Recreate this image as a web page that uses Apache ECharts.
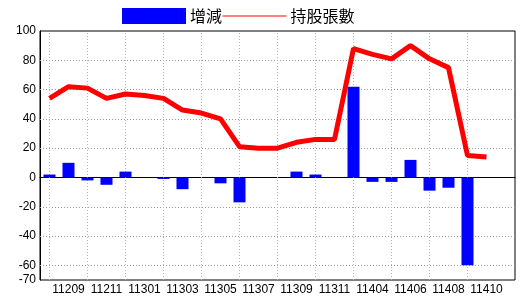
<!DOCTYPE html>
<html>
<head>
<meta charset="utf-8">
<script src="https://cdn.jsdelivr.net/npm/echarts@6/dist/echarts.min.js"></script>
<style>
html,body{margin:0;padding:0;background:#fff;}
#c{width:520px;height:300px;}
</style>
</head>
<body>
<div id="c"></div>
<script>
const categories = ['11208','11209','11210','11211','11212','11301','11302','11303','11304','11305','11306','11307','11308','11309','11310','11311','11312','11404','11405','11406','11407','11408','11409','11410','11411'];
const changeValues = [2, 10, -2, -5, 4, 0, -1, -8, 0, -4, -17, 0, 0, 4, 2, 0, 62, -3, -3, 12, -9, -7, -60, null, null];
const holdingValues = [54, 62, 61, 54, 57, 56, 54, 46, 44, 40, 21, 20, 20, 24, 26, 26, 88, 84, 81, 90, 81, 75, 15, 14, null];
const yLabelValues = [100, 80, 60, 40, 20, 0, -20, -40, -60, -70];
const hGridValues = [80, 60, 40, 20, -20, -40, -60];
const seriesNames = ['增減', '持股張數'];

const vGridCats = categories.filter((c, i) => i % 2 === 0 && i < 23);

const chart = echarts.init(document.getElementById('c'), null, {renderer: 'canvas'});
const labelFont = "'Liberation Sans Narrow','Liberation Sans',Arial,sans-serif";
chart.setOption({
  animation: false,
  backgroundColor: '#fff',
  legend: {
    left: 122, top: 8,
    itemWidth: 64, itemHeight: 16, itemGap: 0,
    padding: 0,
    textStyle: {fontFamily: "'Noto Sans CJK TC',sans-serif", fontSize: 16, color: '#000', padding: [0,0,0,-1]},
    lineStyle: {width: 1},
    data: [
      {name: seriesNames[0], icon: 'rect'},
      {name: seriesNames[1], lineStyle: {width: 1}, itemStyle: {color: 'rgba(0,0,0,0)', borderWidth: 0, opacity: 0}}
    ]
  },
  grid: {left: 40, top: 31, width: 475, height: 249, show: true, borderColor: '#000', borderWidth: 1, containLabel: false},
  xAxis: {
    type: 'category',
    data: categories,
    axisLine: {onZero: true, lineStyle: {color: '#000', width: 1}},
    axisTick: {show: false},
    splitLine: {show: false},
    axisLabel: {
      interval: (i) => i % 2 === 1,
      color: '#000', fontSize: 12, fontFamily: labelFont, margin: 4
    }
  },
  yAxis: {
    type: 'value', min: -70, max: 100, interval: 10,
    axisLine: {show: true, lineStyle: {color: '#000'}},
    axisTick: {show: false},
    splitLine: {show: false},
    axisLabel: {
      color: '#000', fontSize: 12, fontFamily: labelFont, margin: 4,
      formatter: (v) => yLabelValues.indexOf(v) >= 0 ? String(v) : ''
    }
  },
  series: [
    {
      type: 'line', data: [], silent: true, z: 1,
      markLine: {
        silent: true, z: 1, animation: false,
        symbol: ['none','none'],
        label: {show: false},
        emphasis: {disabled: true},
        data: hGridValues.map(v => ({yAxis: v, lineStyle: {color: '#999', type: [1,2], width: 1}}))
          .concat(vGridCats.map(c => ({xAxis: c, lineStyle: {color: '#9dbfcf', type: [1,2], width: 1}})))
      }
    },
    {
      name: seriesNames[0], type: 'bar', data: changeValues,
      barWidth: 12, z: 3,
      itemStyle: {color: '#0000ff'}
    },
    {
      name: seriesNames[1], type: 'line', data: holdingValues,
      symbol: 'none', z: 4,
      lineStyle: {color: '#ff0000', width: 5},
      itemStyle: {color: '#ff0000'}
    }
  ]
});
</script>
</body>
</html>
